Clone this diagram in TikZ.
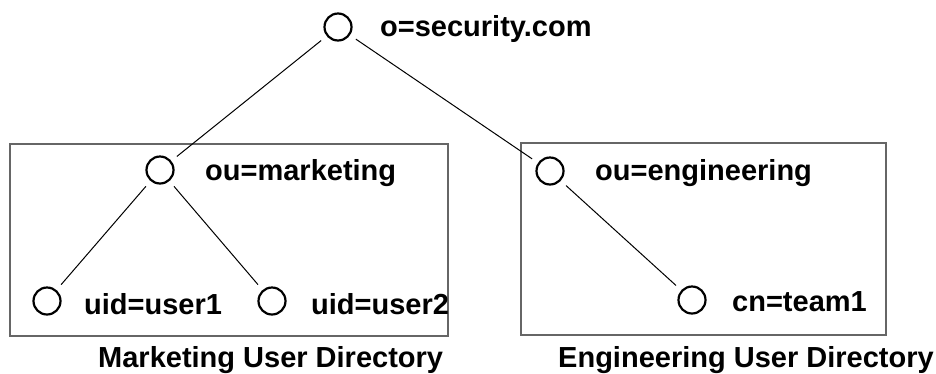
\documentclass[tikz,border=0pt]{standalone}
\usepackage{fontspec}
\setmainfont{Liberation Sans}
\begin{document}
\begin{tikzpicture}[x=1pt,y=-1pt,
  entry/.style={circle,draw,line width=2.2pt,minimum size=27pt,inner sep=0pt},
  lbl/.style={anchor=base west,inner sep=0pt,font=\fontsize{29}{34}\selectfont\bfseries},
  branch/.style={line width=1pt,shorten <=7pt,shorten >=7pt},
  group/.style={draw=black!60,line width=1.1pt}]
\useasboundingbox (0,0) rectangle (936,373);

% directory groups
\draw[group] (10,144) rectangle (448,336);
\draw[group] (521,143) rectangle (886,335);

% entries
\node[entry] (root) at (338,27) {};
\node[entry] (mkt)  at (160,170) {};
\node[entry] (u1)   at (47,301) {};
\node[entry] (u2)   at (272,301) {};
\node[entry] (eng)  at (550,171) {};
\node[entry] (team) at (692,300) {};

% entry names
\node[lbl] (lroot) at (380,36)  {o=security.com};
\node[lbl] (lmkt)  at (205,180) {ou=marketing};
\node[lbl] (lu1)   at (84,314)  {uid=user1};
\node[lbl] (lu2)   at (311,314) {uid=user2};
\node[lbl] (leng)  at (595,180) {ou=engineering};
\node[lbl] (lteam) at (732,311) {cn=team1};

% group captions
\node[lbl] (cmkt) at (98,367)  {Marketing User Directory};
\node[lbl] (ceng) at (558,367) {Engineering User Directory};

% tree branches
\draw[branch] (root) -- (mkt);
\draw[branch] (root) -- (eng);
\draw[branch] (mkt) -- (u1);
\draw[branch] (mkt) -- (u2);
\draw[branch] (eng) -- (team);
\end{tikzpicture}
\end{document}
